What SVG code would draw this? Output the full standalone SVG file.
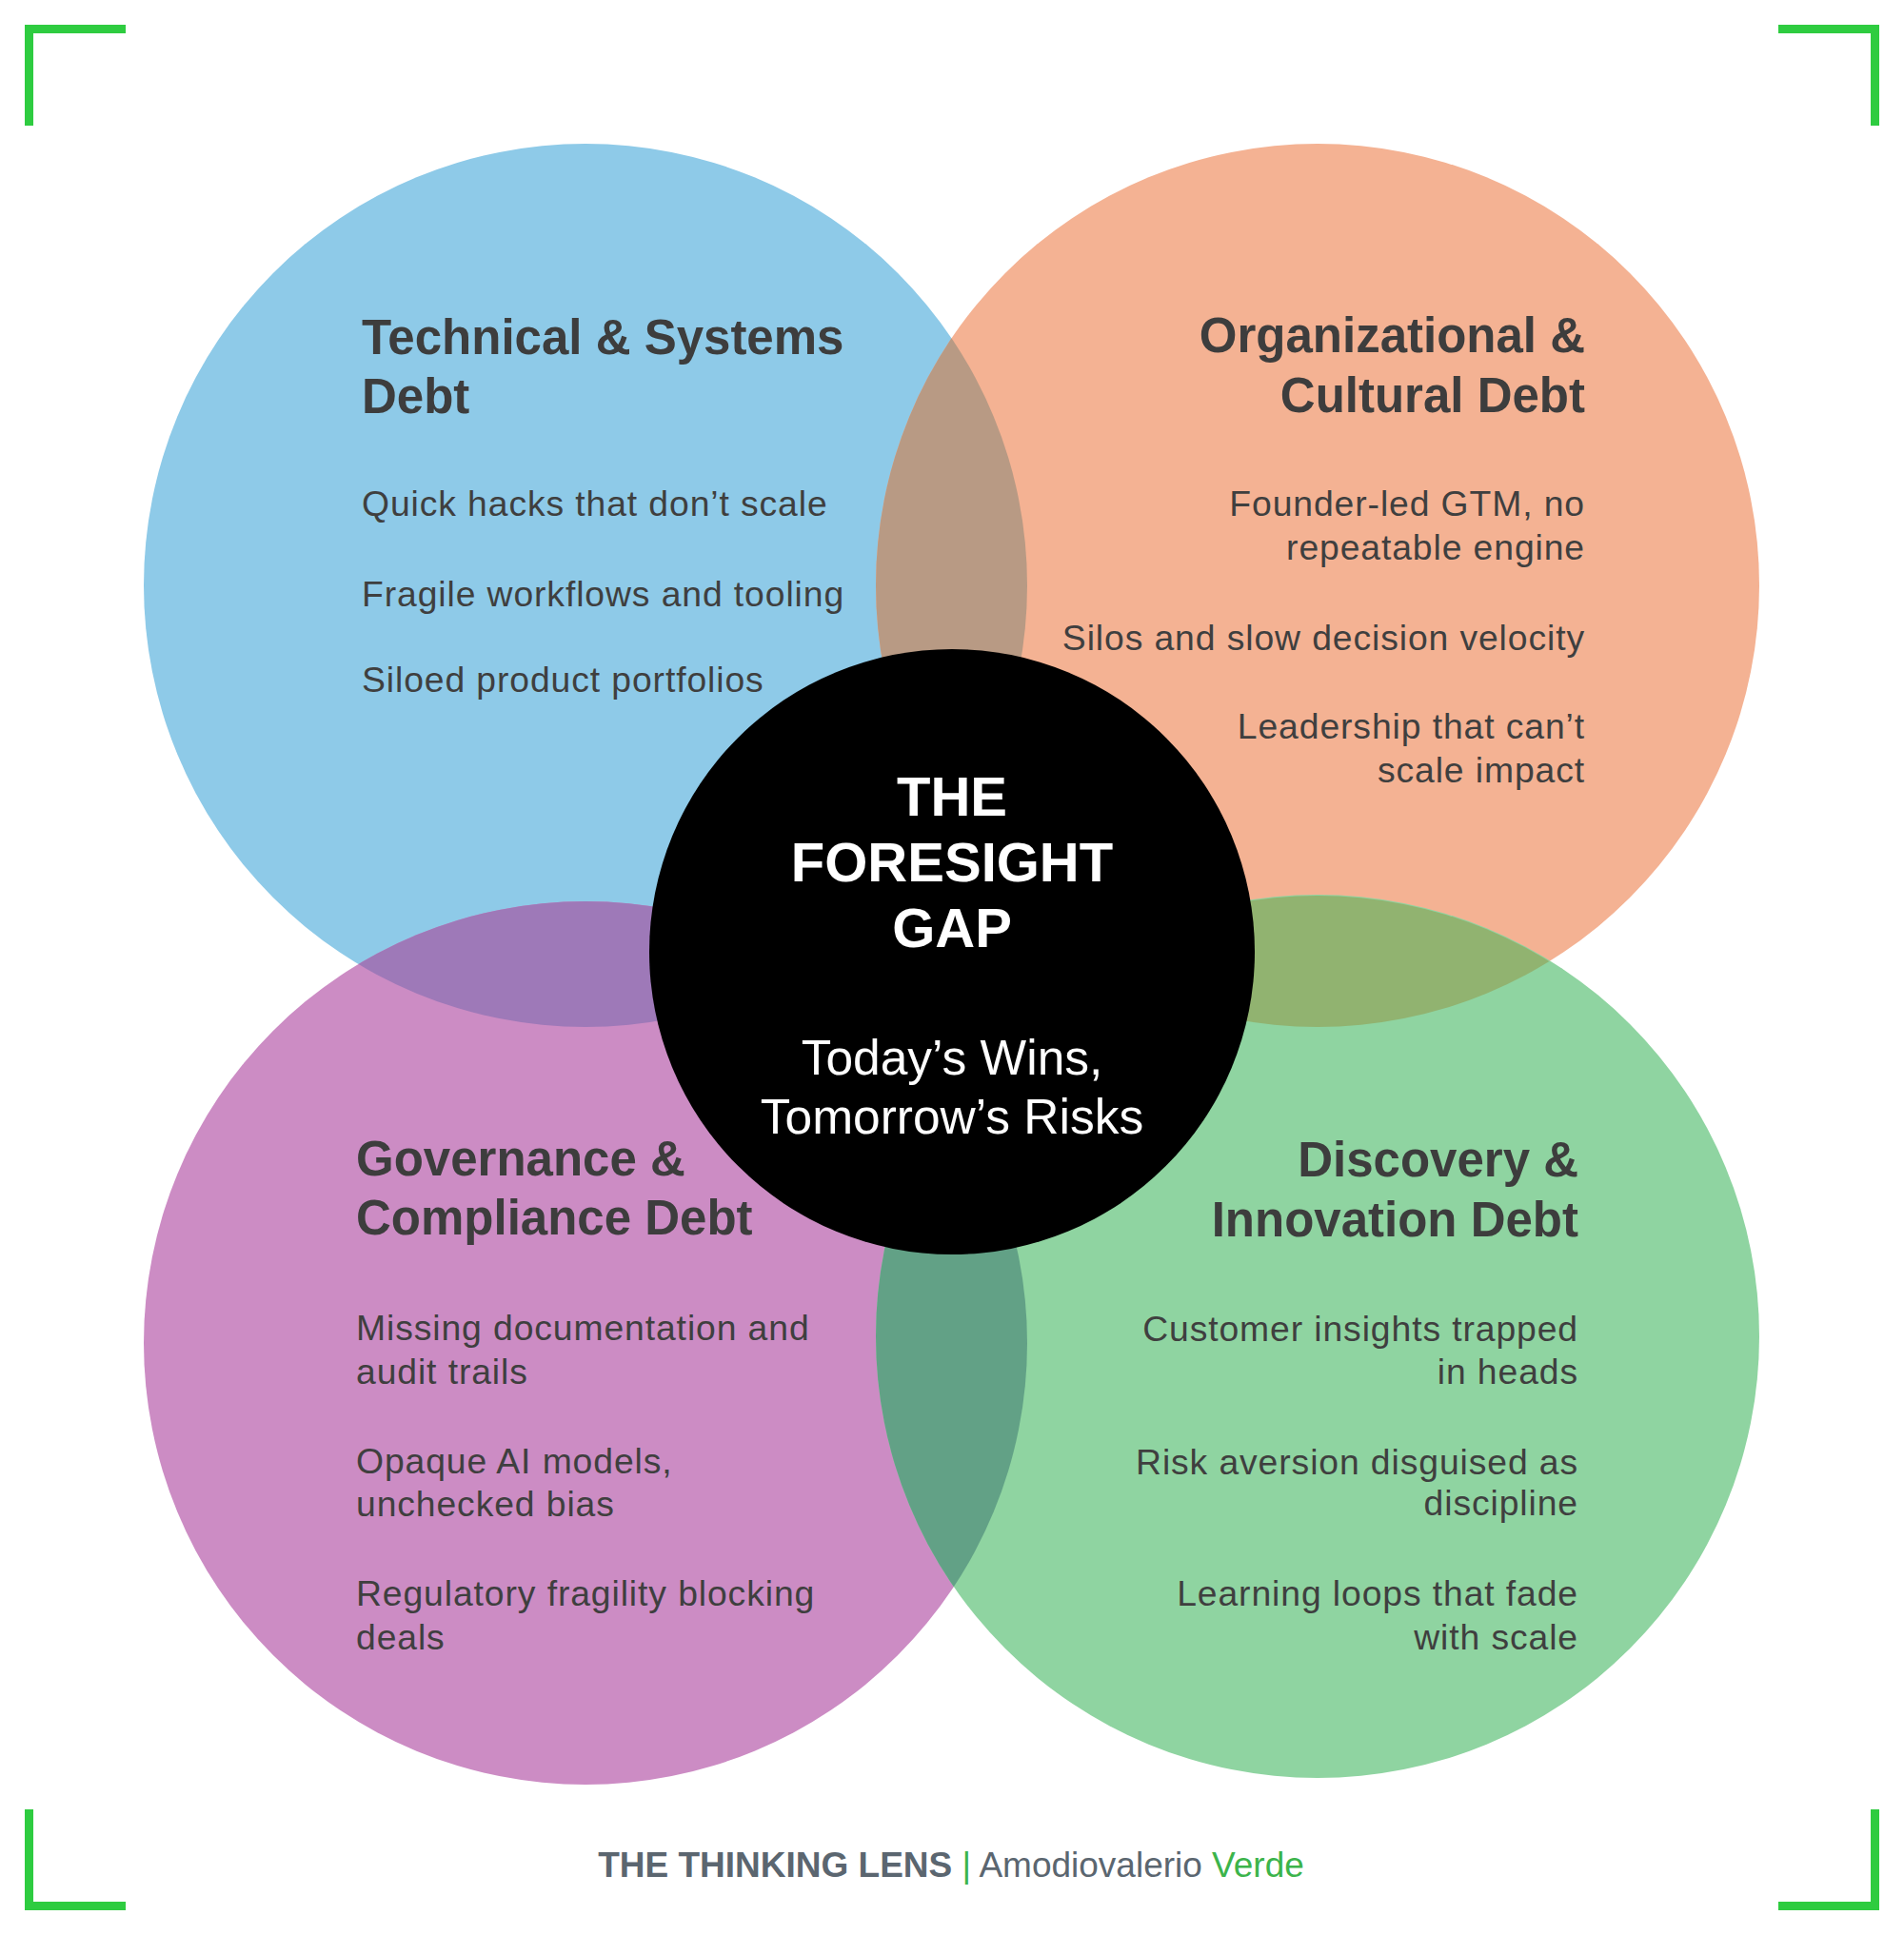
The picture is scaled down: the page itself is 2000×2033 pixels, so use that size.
<svg xmlns="http://www.w3.org/2000/svg" width="2000" height="2033" viewBox="0 0 2000 2033">
<defs>
<style>
.h{font-family:"Liberation Sans",Arial,Helvetica,sans-serif;font-weight:bold;font-size:51px;fill:#3d3d3d}
.b{font-family:"Liberation Sans",Arial,Helvetica,sans-serif;font-size:37.3px;letter-spacing:0.9px;fill:#3f3f3f}
.r{text-anchor:end}
.ct{font-family:"Liberation Sans",Arial,Helvetica,sans-serif;font-weight:bold;font-size:58px;fill:#ffffff;text-anchor:middle}
.cs{font-family:"Liberation Sans",Arial,Helvetica,sans-serif;font-size:51.5px;fill:#ffffff;text-anchor:middle}
.br{fill:none;stroke:#2ECC40;stroke-width:9;stroke-linejoin:miter}
.ft{font-family:"Liberation Sans",Arial,Helvetica,sans-serif;font-size:37px;fill:#5B6670;text-anchor:middle}
</style>
<clipPath id="clipTL"><circle cx="615" cy="615" r="464"/></clipPath>
<clipPath id="clipBL"><circle cx="615" cy="1411" r="464"/></clipPath>
<clipPath id="clipBR"><circle cx="1384" cy="1405" r="464"/></clipPath>
</defs>
<rect width="2000" height="2033" fill="#ffffff"/>
<g id="brackets">
<path class="br" d="M30.5,132 V30.5 H132"/>
<path class="br" d="M1868,30.5 H1969.5 V132"/>
<path class="br" d="M30.5,1901 V2002.5 H132"/>
<path class="br" d="M1868,2002.5 H1969.5 V1901"/>
</g>
<g id="circles">
<circle id="circle-technical" cx="615" cy="615" r="464" fill="#8ECAE8"/>
<circle id="circle-organizational" cx="1384" cy="615" r="464" fill="#F4B293"/>
<circle id="circle-governance" cx="615" cy="1411" r="464" fill="#CC8CC4"/>
<circle id="circle-discovery" cx="1384" cy="1404" r="464" fill="#8FD4A1"/>
<circle cx="1384" cy="615" r="464" fill="#B89A84" clip-path="url(#clipTL)"/>
<circle cx="615" cy="1411" r="464" fill="#9E79B8" clip-path="url(#clipTL)"/>
<circle cx="1384" cy="615" r="464" fill="#91B370" clip-path="url(#clipBR)"/>
<circle cx="1384" cy="1404" r="464" fill="#62A186" clip-path="url(#clipBL)"/>
</g>
<g id="node-technical">
<text class="h" x="380" y="372">Technical &amp; Systems</text>
<text class="h" x="380" y="434">Debt</text>
<text class="b" x="380" y="542">Quick hacks that don’t scale</text>
<text class="b" x="380" y="637">Fragile workflows and tooling</text>
<text class="b" x="380" y="727">Siloed product portfolios</text>
</g>
<g id="node-organizational">
<text class="h r" x="1665" y="370">Organizational &amp;</text>
<text class="h r" x="1665" y="433">Cultural Debt</text>
<text class="b r" x="1665" y="542">Founder-led GTM, no</text>
<text class="b r" x="1665" y="588">repeatable engine</text>
<text class="b r" x="1665" y="683">Silos and slow decision velocity</text>
<text class="b r" x="1665" y="776">Leadership that can’t</text>
<text class="b r" x="1665" y="822">scale impact</text>
</g>
<g id="node-governance">
<text class="h" x="374" y="1235">Governance &amp;</text>
<text class="h" x="374" y="1297">Compliance Debt</text>
<text class="b" x="374" y="1408">Missing documentation and</text>
<text class="b" x="374" y="1454">audit trails</text>
<text class="b" x="374" y="1548">Opaque AI models,</text>
<text class="b" x="374" y="1593">unchecked bias</text>
<text class="b" x="374" y="1687">Regulatory fragility blocking</text>
<text class="b" x="374" y="1733">deals</text>
</g>
<g id="node-discovery">
<text class="h r" x="1658" y="1236">Discovery &amp;</text>
<text class="h r" x="1658" y="1299">Innovation Debt</text>
<text class="b r" x="1658" y="1409">Customer insights trapped</text>
<text class="b r" x="1658" y="1454">in heads</text>
<text class="b r" x="1658" y="1549">Risk aversion disguised as</text>
<text class="b r" x="1658" y="1592">discipline</text>
<text class="b r" x="1658" y="1687">Learning loops that fade</text>
<text class="b r" x="1658" y="1733">with scale</text>
</g>
<g id="node-center">
<circle cx="1000" cy="1000" r="318" fill="#000000"/>
<text class="ct" x="1000" y="857">THE</text>
<text class="ct" x="1000" y="926">FORESIGHT</text>
<text class="ct" x="1000" y="995">GAP</text>
<text class="cs" x="1000" y="1129">Today’s Wins,</text>
<text class="cs" x="1000" y="1191">Tomorrow’s Risks</text>
</g>
<g id="footer">
<text class="ft" x="999" y="1972"><tspan font-weight="bold">THE THINKING LENS</tspan> <tspan fill="#3CB44B">|</tspan> Amodiovalerio <tspan fill="#3CB44B">Verde</tspan></text>
</g>
</svg>
